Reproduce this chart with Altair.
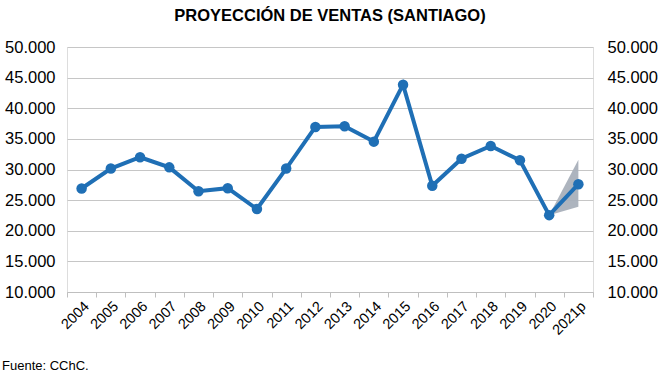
import altair as alt
import pandas as pd

years = ["2004", "2005", "2006", "2007", "2008", "2009", "2010", "2011", "2012",
         "2013", "2014", "2015", "2016", "2017", "2018", "2019", "2020", "2021p"]
ventas = [26900, 30150, 32000, 30350, 26450, 26950, 23550, 30150, 36950,
          37050, 34550, 43850, 27350, 31750, 33850, 31500, 22550, 27600]

band_years = ["2020", "2021p"]
band_low = [22550, 23900]
band_high = [22550, 31600]

df = pd.DataFrame({"year": years, "ventas": ventas})
dband = pd.DataFrame({"year": band_years, "low": band_low, "high": band_high})

FONT = "Liberation Sans"
label_expr = "replace(format(datum.value, ',.0f'), ',', '.')"
yticks = list(range(10000, 50001, 5000))

xenc = alt.X("year:N", sort=years, title=None,
             scale=alt.Scale(type="band", paddingInner=0, paddingOuter=0),
             axis=alt.Axis(labelAngle=-45, labelFontSize=14.5, labelFont=FONT,
                           labelColor="#000000", tickBand="extent", tickSize=5,
                           tickColor="#bfbfbf", domainColor="#bfbfbf",
                           labelPadding=2, grid=False))
yscale = alt.Scale(domain=[10000, 50000])

band = alt.Chart(dband).mark_area(color="#a9b0bb", opacity=0.95).encode(
    x=xenc,
    y=alt.Y("low:Q", scale=yscale, title=None,
            axis=alt.Axis(values=yticks, labelExpr=label_expr,
                          labelFontSize=16.5, labelFont=FONT, labelColor="#000000",
                          labelPadding=12, domain=False, ticks=False, grid=True,
                          gridColor="#c6c6c6", gridWidth=1)),
    y2="high:Q",
)

line = alt.Chart(df).mark_line(color="#1f6fb5", strokeWidth=4).encode(
    x=xenc,
    y=alt.Y("ventas:Q", scale=yscale, axis=None),
)

pts = alt.Chart(df).mark_point(filled=True, color="#1f6fb5", size=110, opacity=1).encode(
    x=xenc,
    y=alt.Y("ventas:Q", scale=yscale, axis=None),
)

right = alt.Chart(df).mark_point(opacity=0).encode(
    x=xenc,
    y=alt.Y("ventas:Q", scale=yscale, title=None,
            axis=alt.Axis(orient="right", values=yticks,
                          labelExpr=label_expr, labelFontSize=16.5, labelFont=FONT,
                          labelColor="#000000", labelPadding=14, domain=False,
                          ticks=False, grid=False)),
)

fuente = alt.Chart(pd.DataFrame({"t": ["Fuente:  CChC."]})).mark_text(
    align="left", baseline="middle", fontSize=13, font=FONT, color="#000000"
).encode(x=alt.value(-65), y=alt.value(319), text="t:N")

chart = alt.layer(band, line, pts, right, fuente).resolve_axis(y="independent").properties(
    width=526, height=245,
    autosize=alt.AutoSizeParams(type="none"),
    padding={"left": 67, "top": 47, "right": 68, "bottom": 84},
    title=alt.TitleParams("PROYECCIÓN DE VENTAS (SANTIAGO)", font=FONT, fontSize=16.5,
                          fontWeight="bold", color="#000000", anchor="middle",
                          offset=15),
).configure_view(stroke=None).configure(background="white")

chart.save("out.html", embed_options={"renderer": "svg", "actions": False})
